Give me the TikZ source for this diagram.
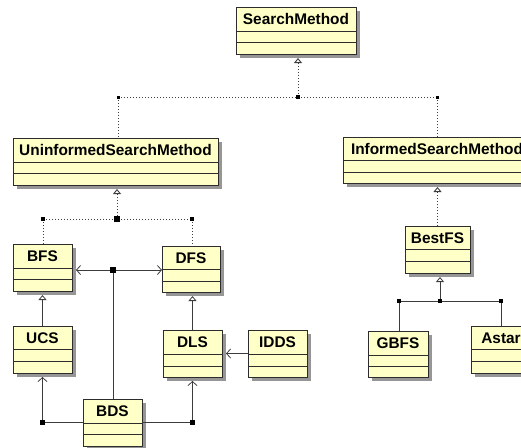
\documentclass[tikz,border=0pt]{standalone}
\usepackage{fontspec}
\setmainfont{Liberation Sans}
\usetikzlibrary{arrows.meta,calc}
\definecolor{clsfill}{RGB}{255,255,200}
\definecolor{clsline}{RGB}{45,45,45}
\definecolor{shadowc}{RGB}{150,150,150}
\definecolor{linec}{RGB}{60,60,60}
\tikzset{
  clsbox/.style={draw=clsline, fill=clsfill, line width=0.9pt, rectangle, inner sep=0pt, outer sep=0pt},
  clstext/.style={font=\fontsize{15.4}{18}\selectfont\bfseries, inner sep=0pt, anchor=base},
  dotl/.style={draw=linec, line width=0.9pt, dash pattern=on 1.2pt off 1.8pt},
  sol/.style={draw=linec, line width=0.8pt},
  gen/.style={-{Triangle[open,length=5pt,width=8pt,fill=white]}},
  assoc/.style={-{Straight Barb[length=4pt,width=9pt]}},
  jsq/.style={fill=black, rectangle, inner sep=0pt, minimum size=4pt},
  jsqb/.style={fill=black, rectangle, inner sep=0pt, minimum size=5.5pt}
}
% name, x1, y1, x2, y2, d1, d2, text
\newcommand{\umlbox}[8]{%
  \fill[shadowc] (#2+4,#3+4) rectangle (#4+4,#5+4);
  \node[clsbox, anchor=north west, minimum width={(#4-#2)*1pt}, minimum height={(#5-#3)*1pt}] (#1) at (#2,#3) {};
  \draw[clsline, line width=0.9pt] (#2,#6) -- (#4,#6) (#2,#7) -- (#4,#7);
  \node[clstext] (#1-t) at ({(#2+#4)/2},{(#3+#6)/2+5.5}) {#8};
}
\begin{document}
\begin{tikzpicture}[x=1pt,y=-1pt]
\useasboundingbox (0,0) rectangle (521,447);
\clip (0,0) rectangle (521,447);

\umlbox{SM}{236}{7}{356}{54}{31}{42}{SearchMethod}
\umlbox{U}{13}{138}{218}{185}{162}{173}{UninformedSearchMethod}
\umlbox{I}{343}{137}{531}{183}{160}{172}{InformedSearchMethod}
\umlbox{BestFS}{405}{226}{470}{273}{249}{261}{BestFS}
\umlbox{BFS}{13}{244}{72}{291}{268}{279}{BFS}
\umlbox{DFS}{162}{246}{220}{292}{269}{281}{DFS}
\umlbox{UCS}{13}{326}{72}{373}{349}{361}{UCS}
\umlbox{DLS}{163}{330}{222}{377}{354}{366}{DLS}
\umlbox{IDDS}{248}{330}{307}{377}{354}{366}{IDDS}
\umlbox{BDS}{83}{399}{142}{446}{423}{434}{BDS}
\umlbox{GBFS}{368}{331}{428}{377}{355}{366}{GBFS}
\umlbox{Astar}{471}{326}{531}{373}{349}{361}{Astar}

% top level realization
\coordinate (j0) at (298,97);
\coordinate (jL) at (118,97);
\coordinate (jR) at (437,97);
\draw[dotl] (jL) -- (jR);
\draw[dotl,gen,shorten >=4pt] (j0) -- (j0 |- SM.south);
\draw[dotl] (jL) -- (jL |- U.north);
\draw[dotl] (jR) -- (jR |- I.north);
\node[jsq] (j0s) at (j0) {};
\node[jsq,minimum size=3pt] (jLs) at (jL) {};
\node[jsq,minimum size=3pt] (jRs) at (jR) {};

% uninformed
\coordinate (j1) at (117,219);
\coordinate (jB) at (43,219);
\coordinate (jD) at (192,219);
\draw[dotl] (jB) -- (jD);
\draw[dotl,gen,shorten >=4pt] (j1) -- (j1 |- U.south);
\draw[dotl] (jB) -- (jB |- BFS.north);
\draw[dotl] (jD) -- (jD |- DFS.north);
\node[jsqb] (j1s) at (j1) {};
\node[jsq] (jBs) at (jB) {};
\node[jsq] (jDs) at (jD) {};

% informed -> BestFS
\draw[dotl,gen,shorten >=4pt] (BestFS.north) -- (BestFS.north |- I.south);

% BestFS children
\coordinate (j3) at (440,301);
\coordinate (jG) at (399,301);
\coordinate (jA) at (501,301);
\draw[sol] (jG) -- (jA);
\draw[sol,gen,shorten >=4pt] (j3) -- (j3 |- BestFS.south);
\draw[sol] (jG) -- (jG |- GBFS.north);
\draw[sol] (jA) -- (jA |- Astar.north);
\node[jsq] (j3s) at (j3) {};
\node[jsq] (jGs) at (jG) {};
\node[jsq] (jAs) at (jA) {};

% BFS / DFS association
\coordinate (j2) at (113,270);
\draw[sol,assoc,shorten >=4pt] (j2) -- (j2 -| BFS.east);
\draw[sol,assoc] (j2) -- (j2 -| DFS.west);
\draw[sol] (j2) -- (j2 |- BDS.north);
\node[jsqb] (j2s) at (j2) {};

% generalizations
\draw[sol,gen,shorten >=4pt] (UCS.north) -- (BFS.south);
\draw[sol,gen,shorten >=4pt] (DLS.north) -- (DLS.north |- DFS.south);
\draw[sol,assoc,shorten >=4pt] (IDDS.west) -- (IDDS.west -| DLS.east);

% BDS
\coordinate (jl) at (UCS.south |- BDS.west);
\coordinate (jr) at (DLS.south |- BDS.east);
\draw[sol,assoc,shorten >=4pt] (BDS.west) -- (jl) -- (UCS.south);
\draw[sol,assoc,shorten >=4pt] (BDS.east) -- (jr) -- (DLS.south);
\node[jsqb] (jls) at (jl) {};
\node[jsqb] (jrs) at (jr) {};
\end{tikzpicture}
\end{document}
